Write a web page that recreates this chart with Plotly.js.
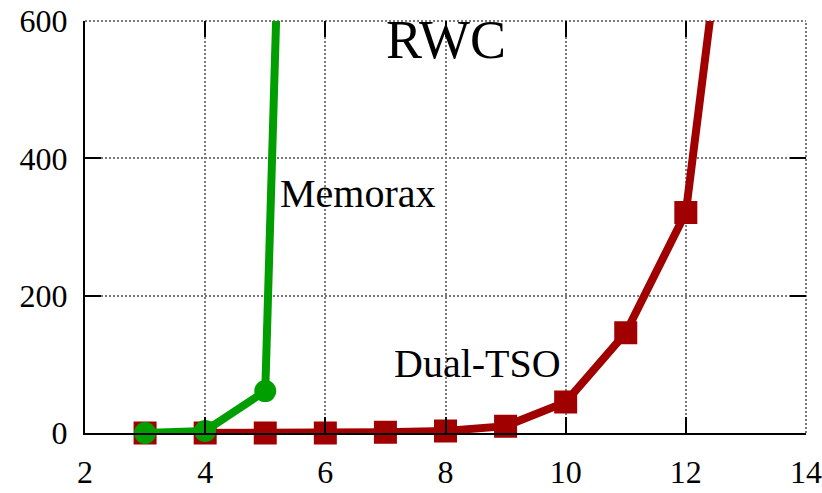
<!DOCTYPE html>
<html>
<head>
<meta charset="utf-8">
<script src="https://cdn.plot.ly/plotly-3.0.1.min.js"></script>
<style>html,body{margin:0;padding:0;background:#fff;}#chart{width:822px;height:493px;}</style>
</head>
<body>
<div id="chart"></div>
<script>
// Data
const memoraxX = [3, 4, 5, 6];
const memoraxY = [0, 3, 61, 3050];
const dualX = [3, 4, 5, 6, 7, 8, 9, 10, 11, 12, 13];
const dualY = [0, 0, 0, 0, 1, 3, 10, 45, 146, 321, 1020];
const xTicks = [2, 4, 6, 8, 10, 12, 14];
const yTicks = [0, 200, 400, 600];
const titleText = "RWC";
const memoraxLabel = "Memorax";
const dualLabel = "Dual-TSO";

const FONT = "Liberation Serif";
const green = "#009e00";
const red = "#a00000";
const gridColor = "#7a7a7a";
const gridDash = "2px,2px";

const traces = [
  {
    x: dualX, y: dualY, mode: "lines+markers", type: "scatter", cliponaxis: false,
    line: {color: red, width: 8},
    marker: {symbol: "square", size: 19, color: red, line: {color: red, width: 4}},
    hoverinfo: "skip", showlegend: false
  },
  {
    x: memoraxX, y: memoraxY, mode: "lines+markers", type: "scatter", cliponaxis: false,
    line: {color: green, width: 8},
    marker: {symbol: "circle", size: 22, color: green},
    hoverinfo: "skip", showlegend: false
  },
  {
    x: [2], y: [0], xaxis: "x2", yaxis: "y2", mode: "markers",
    marker: {opacity: 0}, hoverinfo: "skip", showlegend: false
  }
];

const gridCommon = {
  showgrid: true, gridcolor: gridColor, gridwidth: 2, griddash: gridDash,
  zeroline: false
};

const layout = {
  width: 822, height: 493,
  margin: {l: 85, r: 16, t: 21, b: 60},
  paper_bgcolor: "#ffffff", plot_bgcolor: "#ffffff",
  font: {family: FONT, color: "#000000", size: 32},
  xaxis: Object.assign({}, gridCommon, {
    range: [2, 14], tickmode: "array", tickvals: xTicks, ticktext: xTicks.map(String),
    ticks: "inside", ticklen: 16, tickwidth: 2, tickcolor: "#000",
    showline: true, linecolor: "#000", linewidth: 2,
    tickfont: {family: FONT, size: 32, color: "#000"}, ticklabelstandoff: 10
  }),
  yaxis: Object.assign({}, gridCommon, {
    range: [0, 600], tickmode: "array", tickvals: yTicks, ticktext: yTicks.map(String),
    ticks: "inside", ticklen: 16, tickwidth: 2, tickcolor: "#000",
    showline: true, linecolor: "#000", linewidth: 2,
    tickfont: {family: FONT, size: 32, color: "#000"}, ticklabelstandoff: 9
  }),
  xaxis2: {
    overlaying: "x", side: "top", anchor: "y2", range: [2, 14], tickmode: "array", tickvals: xTicks,
    ticks: "inside", ticklen: 16, tickwidth: 2, tickcolor: "#000",
    showticklabels: false, showgrid: false, zeroline: false, showline: false
  },
  yaxis2: {
    overlaying: "y", side: "right", anchor: "x2", range: [0, 600], tickmode: "array", tickvals: yTicks,
    ticks: "inside", ticklen: 16, tickwidth: 2, tickcolor: "#000",
    showticklabels: false, showgrid: false, zeroline: false, showline: false
  },
  shapes: [
    {type: "line", xref: "paper", yref: "paper", x0: 0, x1: 1, y0: 1, y1: 1, layer: "below",
     line: {color: gridColor, width: 2, dash: gridDash}},
    {type: "line", xref: "paper", yref: "paper", x0: 1, x1: 1, y0: 0, y1: 1, layer: "below",
     line: {color: gridColor, width: 2, dash: gridDash}}
  ],
  annotations: [
    {text: titleText, x: 8, y: 572, xref: "x", yref: "y", xanchor: "center", yanchor: "middle",
     showarrow: false, font: {family: FONT, size: 54, color: "#000"}},
    {text: memoraxLabel, x: 5.21, y: 349, xref: "x", yref: "y", xanchor: "left", yanchor: "middle",
     showarrow: false, font: {family: FONT, size: 40, color: "#000"}},
    {text: dualLabel, x: 7.11, y: 101, xref: "x", yref: "y", xanchor: "left", yanchor: "middle",
     showarrow: false, font: {family: FONT, size: 40, color: "#000"}}
  ]
};

Plotly.newPlot("chart", traces, layout, {displayModeBar: false, staticPlot: true});
</script>
</body>
</html>
